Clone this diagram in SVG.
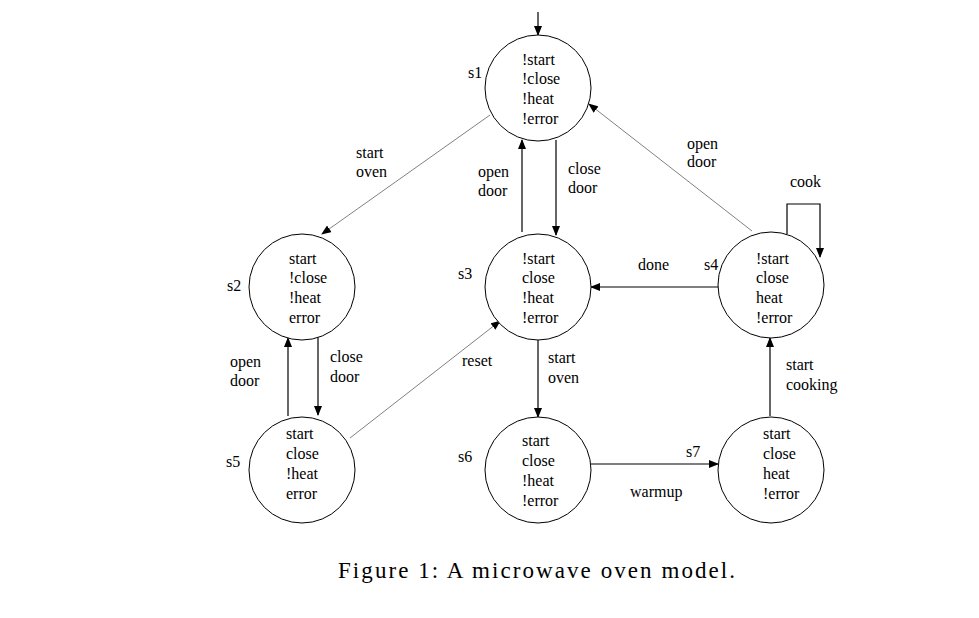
<svg xmlns="http://www.w3.org/2000/svg" width="979" height="618" viewBox="0 0 979 618">
<style>
text{font-family:"Liberation Serif",serif;font-size:16px;fill:#000}
.n{fill:#fff;stroke:#000;stroke-width:1}
.e{fill:none;stroke:#000;stroke-width:1.2}
.t{fill:none;stroke:#000;stroke-width:0.5}
.cap{font-size:23px}
</style>
<defs><marker id="a" markerWidth="10" markerHeight="8" refX="9" refY="4" orient="auto" markerUnits="userSpaceOnUse"><path d="M0,0 L10,4 L0,8 z" fill="#000"/></marker></defs>
<rect width="979" height="618" fill="#fff"/>
<g id="connectors">
<line class="e" x1="538" y1="12" x2="538" y2="35" marker-end="url(#a)"/>
<line class="t" x1="490" y1="115" x2="322" y2="234" marker-end="url(#a)"/>
<line class="e" x1="522" y1="232" x2="522" y2="140" marker-end="url(#a)"/>
<line class="e" x1="556" y1="140" x2="556" y2="235" marker-end="url(#a)"/>
<line class="t" x1="752" y1="231" x2="589" y2="104" marker-end="url(#a)"/>
<path class="e" d="M787,234 V204 H820 V257" marker-end="url(#a)"/>
<line class="e" x1="719" y1="287" x2="591" y2="287" marker-end="url(#a)"/>
<line class="e" x1="538" y1="339" x2="538" y2="417" marker-end="url(#a)"/>
<line class="e" x1="591" y1="464" x2="718" y2="464" marker-end="url(#a)"/>
<line class="e" x1="770" y1="416" x2="770" y2="338" marker-end="url(#a)"/>
<line class="e" x1="318" y1="337" x2="318" y2="415" marker-end="url(#a)"/>
<line class="e" x1="288" y1="416" x2="288" y2="338" marker-end="url(#a)"/>
<line class="t" x1="350" y1="438" x2="500" y2="321" marker-end="url(#a)"/>
<text x="356" y="158">start</text><text x="356" y="177">oven</text>
<text x="478" y="177">open</text><text x="478" y="196">door</text>
<text x="568" y="174">close</text><text x="568" y="193">door</text>
<text x="687" y="149">open</text><text x="687" y="167">door</text>
<text x="790" y="187">cook</text>
<text x="638" y="270">done</text>
<text x="548" y="363">start</text><text x="548" y="383">oven</text>
<text x="630" y="497">warmup</text>
<text x="786" y="370">start</text><text x="786" y="390">cooking</text>
<text x="330" y="362">close</text><text x="330" y="382">door</text>
<text x="230" y="367">open</text><text x="230" y="386">door</text>
<text x="462" y="366">reset</text>
</g>
<g id="s1"><circle class="n" cx="538" cy="88" r="53"/><text x="468" y="78">s1</text><text x="522" y="65">!start</text><text x="522" y="84">!close</text><text x="522" y="104">!heat</text><text x="522" y="124">!error</text></g>
<g id="s2"><circle class="n" cx="302" cy="287" r="53"/><text x="227" y="291">s2</text><text x="289" y="264">start</text><text x="289" y="283">!close</text><text x="289" y="303">!heat</text><text x="289" y="323">error</text></g>
<g id="s3"><circle class="n" cx="538" cy="287" r="53"/><text x="458" y="279">s3</text><text x="522" y="264">!start</text><text x="522" y="283">close</text><text x="522" y="303">!heat</text><text x="522" y="323">!error</text></g>
<g id="s4"><circle class="n" cx="771" cy="285" r="53"/><text x="704" y="270">s4</text><text x="756" y="264">!start</text><text x="756" y="283">close</text><text x="756" y="303">heat</text><text x="756" y="323">!error</text></g>
<g id="s5"><circle class="n" cx="302" cy="470" r="53"/><text x="226" y="467">s5</text><text x="286" y="439">start</text><text x="286" y="459">close</text><text x="286" y="479">!heat</text><text x="286" y="499">error</text></g>
<g id="s6"><circle class="n" cx="538" cy="470" r="53"/><text x="458" y="462">s6</text><text x="522" y="446">start</text><text x="522" y="466">close</text><text x="522" y="486">!heat</text><text x="522" y="506">!error</text></g>
<g id="s7"><circle class="n" cx="771" cy="470" r="53"/><text x="686" y="457">s7</text><text x="763" y="439">start</text><text x="763" y="459">close</text><text x="763" y="479">heat</text><text x="763" y="499">!error</text></g>
<text class="cap" x="338" y="578" textLength="397" lengthAdjust="spacing">Figure 1: A microwave oven model.</text>
</svg>
